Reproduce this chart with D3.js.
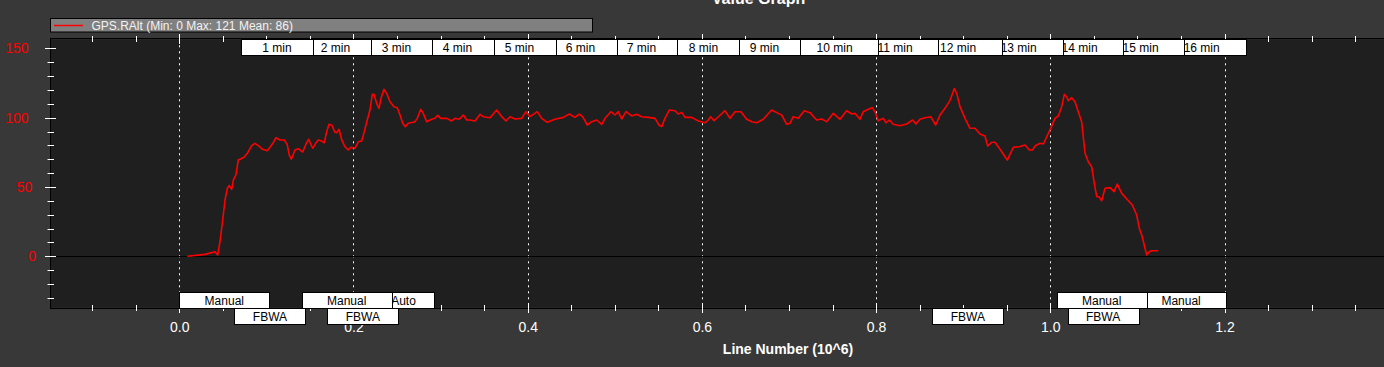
<!DOCTYPE html>
<html><head><meta charset="utf-8">
<script src="https://cdn.jsdelivr.net/npm/d3@7"></script>
<style>html,body{margin:0;padding:0;background:#383838;overflow:hidden}</style>
</head><body><svg id="c" width="1384" height="367"></svg>
<script>
// ---- data (Line Number in 10^6, GPS.RAlt) ----
const lineNumber = [0.0092,0.0295,0.0410,0.0441,0.0467,0.0498,0.0525,0.0551,0.0574,0.0602,0.0620,0.0651,0.0677,0.0697,0.0743,0.0781,0.0831,0.0869,0.0907,0.0958,0.1010,0.1041,0.1079,0.1110,0.1156,0.1206,0.1240,0.1263,0.1286,0.1328,0.1366,0.1417,0.1455,0.1486,0.1509,0.1532,0.1566,0.1596,0.1635,0.1665,0.1692,0.1719,0.1750,0.1788,0.1807,0.1834,0.1865,0.1902,0.1940,0.1971,0.2017,0.2055,0.2094,0.2124,0.2158,0.2189,0.2216,0.2235,0.2266,0.2293,0.2316,0.2350,0.2381,0.2419,0.2465,0.2503,0.2534,0.2565,0.2595,0.2629,0.2706,0.2732,0.2772,0.2801,0.2840,0.2898,0.2936,0.2967,0.3001,0.3070,0.3127,0.3165,0.3215,0.3261,0.3300,0.3338,0.3395,0.3453,0.3490,0.3567,0.3644,0.3702,0.3751,0.3797,0.3854,0.3931,0.3981,0.4026,0.4110,0.4161,0.4225,0.4313,0.4409,0.4478,0.4543,0.4592,0.4631,0.4684,0.4735,0.4792,0.4850,0.4888,0.4956,0.5002,0.5040,0.5079,0.5129,0.5194,0.5251,0.5309,0.5385,0.5462,0.5507,0.5538,0.5576,0.5626,0.5691,0.5729,0.5768,0.5806,0.5883,0.5959,0.6036,0.6073,0.6101,0.6139,0.6200,0.6265,0.6323,0.6380,0.6449,0.6514,0.6572,0.6629,0.6705,0.6801,0.6877,0.6916,0.6974,0.7011,0.7049,0.7107,0.7176,0.7241,0.7318,0.7375,0.7433,0.7509,0.7586,0.7662,0.7720,0.7758,0.7815,0.7853,0.7911,0.7956,0.7987,0.8025,0.8083,0.8114,0.8152,0.8197,0.8274,0.8351,0.8420,0.8458,0.8504,0.8561,0.8627,0.8684,0.8734,0.8791,0.8849,0.8898,0.8926,0.8963,0.9021,0.9078,0.9135,0.9193,0.9250,0.9281,0.9327,0.9365,0.9423,0.9480,0.9506,0.9575,0.9644,0.9710,0.9759,0.9798,0.9824,0.9882,0.9920,0.9959,1.0005,1.0054,1.0092,1.0131,1.0161,1.0188,1.0207,1.0246,1.0284,1.0321,1.0360,1.0399,1.0436,1.0475,1.0505,1.0533,1.0559,1.0590,1.0628,1.0686,1.0732,1.0769,1.0820,1.0889,1.0941,1.0992,1.1022,1.1056,1.1087,1.1107,1.1136,1.1163,1.1240];
const gpsRAlt = [0,1.4,3.3,1,10.5,26,40.6,49,51,48.3,55,59,69.4,70,71.4,74.3,79.8,81.5,79.8,77.2,76.2,78.6,81.9,85.5,83.9,83.9,80.3,73,70,76.7,77.6,75.2,81,84.4,81,77.9,81.5,83.9,83.1,81.9,89.9,95.2,94.7,89.4,89.1,91.6,83.9,79,76.7,78.6,77.9,82.6,83.1,89.9,98.3,105.5,116.8,116.8,110.3,106.7,113.9,120.4,117.5,111.5,107.9,107.2,101.9,95.9,93.5,95.9,97.1,99.5,106,103.1,97.1,98.8,99.5,101.7,99.5,99.5,97.6,99.5,98.8,101.9,98.3,98.3,97.6,102.4,100.7,99.9,105.5,100.7,97.6,100.7,99,99.5,104.3,100.7,104.3,99.5,96.6,98.8,100.2,102.6,100.2,102.6,100.7,94.7,97.1,98.3,95.2,99.5,104.3,101.9,104.3,99,104.3,101.2,102.4,100.7,100.2,99.5,94.7,93.5,99.5,105.5,105,102.6,103.8,100.2,100.2,97.6,96.3,98.3,100.7,97.8,101.2,105,99.5,104.3,104.3,98.8,97.1,96.3,98.8,105.5,103.1,101.9,95.2,95.9,100.7,99.5,105,103.6,98.3,99,97.1,103.1,98.8,105,102.6,103.1,98.8,104.3,106,107.2,104.3,97.8,99.5,96.3,98.3,95.2,94.2,95.4,98.3,95.4,98.8,99.9,100.7,94.7,101.9,106.7,112.5,121,117.5,107.9,99.5,92.3,92.3,88.2,86.8,79.5,82.2,82.2,77.2,71.8,69.4,78.6,79,80.3,76.7,76.7,79.5,81.5,81,86.2,92.3,99.5,101.2,107.9,116.8,115.1,112.2,114.4,111.5,104.3,97.1,74.3,68.2,64.6,52.6,43,43,40.1,49,49.5,46.6,52.1,45.4,40.6,37,29.8,20.2,14.1,5.8,1,3.3,4,4];

const minuteLabels = ["1 min","2 min","3 min","4 min","5 min","6 min","7 min","8 min","9 min","10 min","11 min","12 min","13 min","14 min","15 min","16 min"];
const minuteLines = [0.0708,0.1380,0.2080,0.2781,0.3493,0.4193,0.4893,0.5605,0.6305,0.7017,0.7723,0.8435,0.9130,0.9830,1.0530,1.1231];

const modeNames = ["Manual","FBWA","Manual","FBWA","Auto","FBWA","Manual","FBWA","Manual"];
const modeLines = [0.0,0.0633,0.1405,0.1700,0.2230,0.8646,1.0073,1.0199,1.0985];

const xMajorTicks = [0,0.2,0.4,0.6,0.8,1.0,1.2,1.4];
const yMajorTicks = [0,50,100,150];
const seriesName = "GPS.RAlt (Min: 0 Max: 121 Mean: 86)";
const titleText = "Value Graph";
const xTitle = "Line Number (10^6)";

// ---- layout / style ----
const FONT = "'Liberation Sans', Arial, sans-serif";
const L = 51, R = 1525, T = 39.3, B = 307.7;
const modeBoxW = {Manual: 90, FBWA: 71, Auto: 60};

const svg = d3.select("#c");
svg.append("rect").attr("width",1384).attr("height",367).attr("fill","#383838");

const x = d3.scaleLinear().domain([-0.1473, 1.545]).range([L, R]);
const y = d3.scaleLinear().domain([-37.07, 156.5]).range([B, T]);

// plot background
svg.append("rect").attr("x",L).attr("y",T).attr("width",R-L).attr("height",B-T)
  .attr("fill","#1f1f1f");

// dotted vertical grid at major ticks
svg.append("g").selectAll("line").data(xMajorTicks).join("line")
  .attr("x1",d=>Math.round(x(d))+0.5).attr("x2",d=>Math.round(x(d))+0.5)
  .attr("y1",T).attr("y2",B)
  .attr("stroke","#ffffff").attr("stroke-width",1).attr("stroke-dasharray","2,4");

// zero line
svg.append("line").attr("x1",L).attr("x2",R)
  .attr("y1",Math.round(y(0))+0.5).attr("y2",Math.round(y(0))+0.5)
  .attr("stroke","#000").attr("stroke-width",1);

// data line
const pts = lineNumber.map((v,i)=>[v,gpsRAlt[i]]);
svg.append("path").datum(pts)
  .attr("d", d3.line().x(d=>x(d[0])).y(d=>y(d[1])))
  .attr("fill","none").attr("stroke","#ff0000").attr("stroke-width",1.6)
  .attr("stroke-linejoin","round");

// border
svg.append("rect").attr("x",L-0.5).attr("y",Math.round(T)-0.5).attr("width",R-L+1).attr("height",Math.round(B)-Math.round(T)+1)
  .attr("fill","none").attr("stroke","#000").attr("stroke-width",1);

// x axis (bottom & top) ticks
const xMinor = d3.range(-0.1, 1.55, 0.05).map(v=>+v.toFixed(2));
function xTicks(yy){
  const g = svg.append("g");
  g.selectAll("line").data(xMinor).join("line")
    .attr("x1",d=>Math.round(x(d))+0.5).attr("x2",d=>Math.round(x(d))+0.5)
    .attr("y1",d=>yy-(xMajorTicks.some(m=>Math.abs(m-d)<1e-6)?5:3))
    .attr("y2",d=>yy+(xMajorTicks.some(m=>Math.abs(m-d)<1e-6)?5:3))
    .attr("stroke","#fff").attr("stroke-width",1);
}
xTicks(Math.round(B)); xTicks(Math.round(T));

// x axis labels via d3 axis
const xAxis = svg.append("g").attr("transform",`translate(0,${Math.round(B)})`)
  .call(d3.axisBottom(x).tickValues(xMajorTicks.filter(v=>v<=1.2)).tickFormat(d3.format(".1f")).tickSize(0).tickPadding(14));
xAxis.select(".domain").remove();
xAxis.selectAll("text").attr("fill","#ffffff").attr("font-family",FONT).attr("font-size",14);

// y ticks
const yMinor = d3.range(-30, 160, 10);
svg.append("g").selectAll("line").data(yMinor).join("line")
  .attr("y1",d=>Math.round(y(d))+0.5).attr("y2",d=>Math.round(y(d))+0.5)
  .attr("x1",d=>L-(d%50===0?6:3.5)).attr("x2",d=>L+(d%50===0?5:3))
  .attr("stroke","#fff").attr("stroke-width",1);
svg.append("g").selectAll("text").data(yMajorTicks).join("text")
  .attr("x",d=>28.5+3.8*(3-String(d).length)).attr("y",d=>y(d)+5)
  .attr("text-anchor","end").attr("fill","#ff0000")
  .attr("font-family",FONT).attr("font-size",14).text(d=>d);

// minute boxes (earlier ones on top -> draw in reverse)
const minIdx = d3.range(minuteLabels.length).reverse();
minIdx.forEach(i=>{
  const g = svg.append("g");
  const t = g.append("text").attr("font-family",FONT).attr("font-size",12).attr("fill","#000").text(minuteLabels[i]);
  const tw = t.node().getComputedTextLength();
  const w = tw*2.45;
  const x0 = x(minuteLines[i]);
  g.insert("rect","text").attr("x",Math.round(x0)+0.5).attr("y",Math.round(T)+0.5).attr("width",Math.round(w)).attr("height",16)
    .attr("fill","#fff").attr("stroke","#000").attr("stroke-width",1);
  t.attr("x",x0+w/2).attr("y",Math.round(T)+12.5).attr("text-anchor","middle");
});

// mode boxes (alternating rows, earlier on top)
d3.range(modeNames.length).reverse().forEach(i=>{
  const g = svg.append("g");
  const w = modeBoxW[modeNames[i]];
  const x0 = x(modeLines[i]);
  const top = 292 + (i%2)*16;
  g.append("rect").attr("x",Math.round(x0)+0.5).attr("y",top+0.5).attr("width",w).attr("height",16)
    .attr("fill","#fff").attr("stroke","#000").attr("stroke-width",1);
  g.append("text").attr("x",x0+w/2).attr("y",top+12.5).attr("text-anchor","middle")
    .attr("font-family",FONT).attr("font-size",12).attr("fill","#000").text(modeNames[i]);
});

// axis title
svg.append("text").attr("x",(L+R)/2).attr("y",354).attr("text-anchor","middle")
  .attr("font-family",FONT).attr("font-size",14).attr("font-weight","bold").attr("fill","#fff").text(xTitle);

// chart title (mostly cut off at top)
svg.append("text").attr("x",758.5).attr("y",4).attr("text-anchor","middle")
  .attr("font-family",FONT).attr("font-size",16).attr("font-weight","bold").attr("fill","#fff").text(titleText);

// legend
const lg = svg.append("g");
lg.append("rect").attr("x",50.5).attr("y",18.5).attr("width",542).attr("height",13.5)
  .attr("fill","#808080").attr("stroke","#000").attr("stroke-width",1);
lg.append("line").attr("x1",54).attr("x2",83).attr("y1",25.5).attr("y2",25.5)
  .attr("stroke","#ff0000").attr("stroke-width",1.5);
lg.append("text").attr("x",91.5).attr("y",29.5).attr("font-family",FONT).attr("font-size",12)
  .attr("fill","#f2f2f2").text(seriesName);
</script></body></html>
